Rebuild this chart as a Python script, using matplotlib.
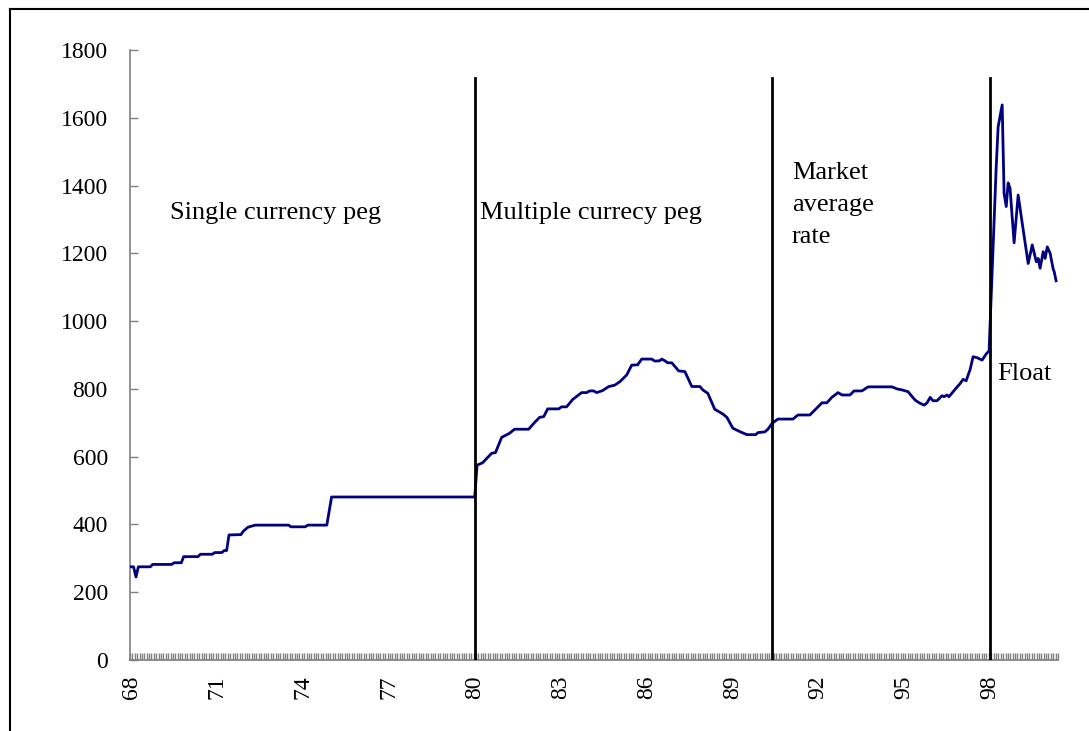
import numpy as np
import matplotlib
matplotlib.use("Agg")
import matplotlib.pyplot as plt
from matplotlib.lines import Line2D

# Months since Jan 1968 (category index) and won/US$ values
months = [0, 1, 2, 3, 8, 9, 17, 18, 21, 22, 28, 29, 34, 35, 38, 39, 40, 41, 46, 47,
          49, 52, 66, 67, 73, 74, 82, 84, 144, 145,
          147.3, 151.1, 152.7, 155.3, 158.6, 160.7, 166.6, 169.1, 171.2, 172.9,
          174.6, 179.2, 180.4, 182.5, 185.1, 188.8, 190.9, 192.2, 193.9, 195.1,
          197.6, 200.2, 202.7, 204.8, 207.7, 209.8, 212.3, 214, 218.2, 219.5,
          221.6, 222.4, 223.7, 224.9, 226.6, 229.5, 232.1, 235, 238.4, 239.6,
          241.7, 244.6, 248, 249.7, 252.2, 255.1, 258.1, 261.8, 262.7, 265.6,
          266.9, 268.6, 271.1, 277.4, 279.5, 284.5, 289.6, 291.6, 293.7, 296.3,
          298, 301.3, 303, 306.3, 308.9, 318.9, 321, 323.1, 325.6, 328.6,
          330.3, 332.4, 333.6, 334.9, 336.1, 337.8, 339.9, 340.7, 342, 342.8,
          345.4, 347.5, 348.7, 350, 351.7, 352.9, 354.6, 356.7, 358.4, 359.6,
          362.6, 363.4, 365.1, 365.9, 366.8, 367.6, 368.4, 370.1, 371.8, 373.5,
          376, 377.7, 379.4, 380.2, 381, 382.3, 383.1, 384, 385.2, 386.5,
          386.9, 387.7]
won_per_usd = [275, 275, 245, 275, 275, 282, 282, 287, 287, 305, 305, 312, 312, 317, 317, 323, 323, 369, 370, 380,
               392, 398, 398, 393, 393, 398, 398, 481, 481, 575,
               582, 610, 612, 657, 669, 681, 681, 701, 716, 718,
               741, 741, 747, 747, 769, 789, 789, 794, 794, 789,
               795, 807, 811, 821, 841, 870, 871, 888, 888, 882,
               883, 888, 883, 877, 877, 853, 851, 807, 807, 797,
               787, 740, 726, 716, 684, 674, 665, 665, 671, 673,
               681, 698, 711, 711, 723, 723, 759, 759, 775, 789,
               782, 782, 794, 794, 806, 806, 800, 797, 792, 767,
               759, 752, 759, 775, 765, 765, 780, 777, 782, 777,
               799, 816, 828, 824, 858, 895, 892, 885, 903, 912,
               1455, 1573, 1638, 1377, 1338, 1408, 1392, 1231, 1372, 1289,
               1170, 1225, 1175, 1185, 1156, 1205, 1185, 1219, 1200, 1153,
               1146, 1119]

n_months = 389
tick_labels = ["68", "71", "74", "77", "80", "83", "86", "89", "92", "95", "98"]
tick_months = [0, 36, 72, 108, 144, 180, 216, 252, 288, 324, 360]

regime_breaks = [144, 268.6, 360]
regime_line_top = 1717
regime_labels = ["Single currency peg", "Multiple currecy peg", "Market\naverage\nrate", "Float"]
label_pos = [(16.3, 1319), (146.2, 1319), (276.9, 1343), (362.9, 844)]

plt.rcParams['font.family'] = ['Liberation Serif', 'DejaVu Serif']

fig = plt.figure(figsize=(10.89, 7.31), dpi=100)
ax = fig.add_axes([130/1089, 1-660/731, (1058-130)/1089, (660-50)/731])

ax.plot(months, won_per_usd, color='#000080', lw=2.0, zorder=3)

for b in regime_breaks:
    ax.plot([b, b], [0, regime_line_top], color='black', lw=2.0, zorder=4)

for (x, y), t in zip(label_pos, regime_labels):
    ax.text(x, y, t, fontsize=19, va='center', ha='left', linespacing=1.6)

ax.set_xlim(-0.5, n_months - 0.5)
ax.set_ylim(0, 1800)
ax.set_yticks(np.arange(0, 1801, 200))
ax.set_xticks(tick_months)
ax.set_xticklabels(tick_labels, rotation=90)
ax.set_xticks(np.arange(-0.5, n_months, 1), minor=True)

for s in ['top', 'right']:
    ax.spines[s].set_visible(False)
for s in ['left', 'bottom']:
    ax.spines[s].set_color('#808080')
    ax.spines[s].set_linewidth(1.2)

ax.tick_params(axis='y', direction='in', length=6, width=1, color='#808080', labelsize=17, pad=16)
ax.tick_params(axis='x', which='major', direction='in', length=0, labelsize=17, pad=11)
ax.tick_params(axis='x', which='minor', direction='in', length=5, width=1.0, color='#808080')

fig.add_artist(Line2D([10/1089, 10/1089], [0, 1-9/731], color='black', lw=1.5, transform=fig.transFigure))
fig.add_artist(Line2D([10/1089, 1.0], [1-9/731, 1-9/731], color='black', lw=1.5, transform=fig.transFigure))

fig.savefig("out.png", dpi=100)
